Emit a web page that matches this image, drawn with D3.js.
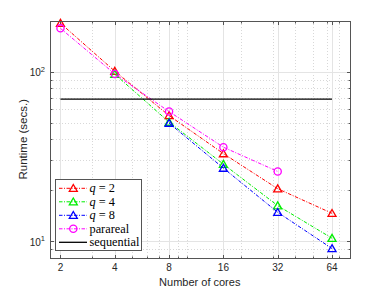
<!DOCTYPE html>
<html>
<head>
<meta charset="utf-8">
<script src="https://cdn.jsdelivr.net/npm/d3@7"></script>
<style>
  body { margin: 0; background: #fff; }
  svg { display: block; }
</style>
</head>
<body>
<div class="container"></div>
<script>
// data
const cores = [2, 4, 8, 16, 32, 64];
const q2 = [194, 101, 55.2, 32.9, 20.4, 14.6];
const q4 = [null, 97, 50.5, 28.5, 16.2, 10.4];
const q8 = [null, null, 49.8, 27.0, 14.8, 9.04];
const parareal = [181, 97.3, 58.3, 35.9, 25.8, null];
const sequential = 69;
const xTicks = [2, 4, 8, 16, 32, 64];
const yTicks = [10, 100];
const xMinor = [3, 5, 6, 7, 9, 10, 20, 30, 40, 50, 60, 70, 80];
const yMinor = [8, 9, 20, 30, 40, 50, 60, 70, 80, 90, 200];

const width = 386, height = 290;
const margin = {top: 21, right: 36.5, bottom: 32.5, left: 50};
const svg = d3.select(".container")
              .append("svg")
              .attr("width", width)
              .attr("height", height);

const x = d3.scaleLog().base(2)
            .domain([1.75, 80])
            .range([margin.left, width - margin.right]);
const y = d3.scaleLog()
            .domain([8, 200])
            .range([height - margin.bottom, margin.top]);

const x0 = margin.left, x1 = width - margin.right;
const y0 = height - margin.bottom, y1 = margin.top;
const snap = v => Math.round(v) + 0.5;

// grid
const grid = svg.append("g");
grid.selectAll(".xminor").data(xMinor).join("line")
    .attr("x1", d => snap(x(d))).attr("x2", d => snap(x(d)))
    .attr("y1", y1).attr("y2", y0)
    .attr("stroke", "#d8d8d8").attr("stroke-dasharray", "1,2");
grid.selectAll(".yminor").data(yMinor).join("line")
    .attr("y1", d => snap(y(d))).attr("y2", d => snap(y(d)))
    .attr("x1", x0).attr("x2", x1)
    .attr("stroke", "#d8d8d8").attr("stroke-dasharray", "1,2");
grid.selectAll(".xmajor").data(xTicks).join("line")
    .attr("x1", d => snap(x(d))).attr("x2", d => snap(x(d)))
    .attr("y1", y1).attr("y2", y0)
    .attr("stroke", "#e4e4e4");
grid.selectAll(".ymajor").data(yTicks).join("line")
    .attr("y1", d => snap(y(d))).attr("y2", d => snap(y(d)))
    .attr("x1", x0).attr("x2", x1)
    .attr("stroke", "#e4e4e4");

// ticks on all four sides, pointing inward
const ticks = svg.append("g").attr("stroke", "#555");
const tickX = (vals, len) => {
    ticks.selectAll(null).data(vals).join("line")
         .attr("x1", d => snap(x(d))).attr("x2", d => snap(x(d)))
         .attr("y1", snap(y0)).attr("y2", snap(y0) - len);
    ticks.selectAll(null).data(vals).join("line")
         .attr("x1", d => snap(x(d))).attr("x2", d => snap(x(d)))
         .attr("y1", snap(y1)).attr("y2", snap(y1) + len);
};
const tickY = (vals, len) => {
    ticks.selectAll(null).data(vals).join("line")
         .attr("y1", d => snap(y(d))).attr("y2", d => snap(y(d)))
         .attr("x1", snap(x0)).attr("x2", snap(x0) + len);
    ticks.selectAll(null).data(vals).join("line")
         .attr("y1", d => snap(y(d))).attr("y2", d => snap(y(d)))
         .attr("x1", snap(x1)).attr("x2", snap(x1) - len);
};
tickX(xTicks, 3.5); tickX(xMinor, 2);
tickY(yTicks, 3.5); tickY(yMinor, 2);

// series
const series = [
    {name: "q2", vals: q2, color: "#ff0000", marker: "tri"},
    {name: "q4", vals: q4, color: "#00ee00", marker: "tri"},
    {name: "q8", vals: q8, color: "#0000ff", marker: "tri"},
    {name: "parareal", vals: parareal, color: "#ff00ff", marker: "circ"}
];
const dashDot = "3.5,1.5,1,1.5";
const line = d3.line()
               .defined(d => d.v != null)
               .x(d => x(d.c))
               .y(d => y(d.v));
const tri = d3.symbol().type(d3.symbolTriangle).size(28);

function drawMarker(g, m, color, cx, cy) {
    if (m === "tri") {
        g.append("path").attr("d", tri)
         .attr("transform", `translate(${cx},${cy + 0.8})`)
         .attr("fill", "none").attr("stroke", color).attr("stroke-width", 1.3);
    } else {
        g.append("circle").attr("cx", cx).attr("cy", cy).attr("r", 3.6)
         .attr("fill", "none").attr("stroke", color).attr("stroke-width", 1.3);
    }
}

const plot = svg.append("g");
series.forEach(s => {
    const pts = cores.map((c, i) => ({c: c, v: s.vals[i]}));
    plot.append("path")
        .datum(pts)
        .attr("d", line)
        .attr("fill", "none")
        .attr("stroke", s.color)
        .attr("stroke-width", 1)
        .attr("stroke-dasharray", dashDot);
    pts.filter(d => d.v != null)
       .forEach(d => drawMarker(plot, s.marker, s.color, x(d.c), y(d.v)));
});
plot.append("line")
    .attr("x1", x(cores[0])).attr("x2", x(cores[cores.length - 1]))
    .attr("y1", y(sequential)).attr("y2", y(sequential))
    .attr("stroke", "#000").attr("stroke-width", 1.3);

// axes box
svg.append("rect")
   .attr("x", snap(x0)).attr("y", snap(y1))
   .attr("width", Math.round(x1) - Math.round(x0))
   .attr("height", Math.round(y0) - Math.round(y1))
   .attr("fill", "none").attr("stroke", "#555");

// tick labels
const labFont = "'Liberation Sans', Arial, sans-serif";
svg.append("g").selectAll("text").data(xTicks).join("text")
   .attr("x", d => x(d)).attr("y", y0 + 13)
   .attr("text-anchor", "middle")
   .attr("font-family", labFont).attr("font-size", 10)
   .attr("fill", "#262626")
   .text(d => d);
const yl = svg.append("g").selectAll("text").data(yTicks).join("text")
   .attr("x", x0 - 5).attr("y", d => y(d) + 4.5)
   .attr("text-anchor", "end")
   .attr("font-family", labFont).attr("font-size", 10)
   .attr("fill", "#262626");
yl.append("tspan").text("10");
yl.append("tspan").attr("dy", -4.5).attr("font-size", 7.5)
  .text(d => Math.round(Math.log10(d)));

// axis titles
svg.append("text")
   .attr("x", (x0 + x1) / 2).attr("y", 285.5)
   .attr("text-anchor", "middle")
   .attr("font-family", labFont).attr("font-size", 11)
   .attr("fill", "#262626")
   .text("Number of cores");
svg.append("text")
   .attr("transform", `translate(26.5,${(y0 + y1) / 2}) rotate(-90)`)
   .attr("text-anchor", "middle")
   .attr("font-family", labFont).attr("font-size", 11.5)
   .attr("fill", "#262626")
   .text("Runtime (secs.)");

// legend
const legendItems = [
    {q: "2", color: "#ff0000", marker: "tri"},
    {q: "4", color: "#00ee00", marker: "tri"},
    {q: "8", color: "#0000ff", marker: "tri"},
    {label: "parareal", color: "#ff00ff", marker: "circ"},
    {label: "sequential", color: "#000", marker: null}
];
const lg = svg.append("g");
lg.append("rect")
  .attr("x", 55.5).attr("y", 179.5).attr("width", 86).attr("height", 71)
  .attr("fill", "#fff").attr("stroke", "#555");
const serif = "'Liberation Serif', 'DejaVu Serif', serif";
legendItems.forEach((d, i) => {
    const ly = 188.3 + i * 13.5;
    lg.append("line")
      .attr("x1", 59).attr("x2", 87).attr("y1", ly).attr("y2", ly)
      .attr("stroke", d.color)
      .attr("stroke-width", d.marker ? 1 : 1.3)
      .attr("stroke-dasharray", d.marker ? dashDot : null);
    if (d.marker) drawMarker(lg, d.marker, d.color, 73.3, ly);
    const t = lg.append("text")
      .attr("x", 89.5).attr("y", ly + 4)
      .attr("font-family", serif).attr("font-size", 12.3)
      .attr("fill", "#000");
    if (d.q) {
        t.append("tspan").attr("font-style", "italic").text("q");
        t.append("tspan").text(" = " + d.q);
    } else {
        t.text(d.label);
    }
});
</script>
</body>
</html>
